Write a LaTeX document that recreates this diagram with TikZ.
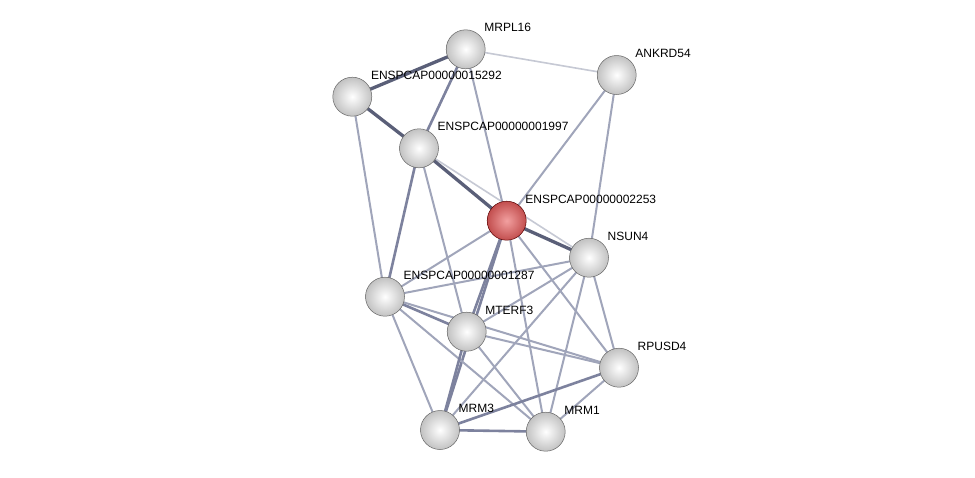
\documentclass[tikz,border=0pt]{standalone}
\usepackage{fontspec}
\setmainfont{Liberation Sans}
\definecolor{ekA}{HTML}{5A5F78}
\definecolor{ekB}{HTML}{7D829E}
\definecolor{ekC}{HTML}{A0A5BA}
\definecolor{ekD}{HTML}{C6C9D4}
\definecolor{ballrim}{HTML}{C2C2C2}
\definecolor{redin}{HTML}{F2A0A0}
\definecolor{redout}{HTML}{C24E4E}
\begin{document}
\begin{tikzpicture}[x=1pt,y=-1pt,
  ball/.style={circle,minimum size=39pt,inner sep=0pt,draw=gray!80!black,line width=0.5pt,
    inner color=white,outer color=ballrim},
  redball/.style={circle,minimum size=39pt,inner sep=0pt,draw=red!35!black,line width=0.5pt,
    inner color=redin,outer color=redout},
  lbl/.style={anchor=base west,font=\fontsize{12}{13}\selectfont,inner sep=0pt},
  ethick/.style={line width=3.3pt,draw=ekA},
  emed/.style={line width=2.6pt,draw=ekB},
  ethin/.style={line width=2pt,draw=ekC},
  elight/.style={line width=1.6pt,draw=ekD}]
\useasboundingbox (0,0) rectangle (975,477);
\fill[white] (0,0) rectangle (975,477);
% coordinates
\coordinate (cMRPL) at (465.7,49.3);
\coordinate (cANK) at (616.7,75);
\coordinate (cA) at (352.3,96.7);
\coordinate (cB) at (419,148.3);
\coordinate (cR) at (506.7,220.7);
\coordinate (cNS) at (589,257.7);
\coordinate (cC) at (385,296.7);
\coordinate (cMT) at (466.7,331.7);
\coordinate (cRP) at (619,367.7);
\coordinate (cM3) at (440,430);
\coordinate (cM1) at (545.7,431.7);
% edges
\draw[elight] (cMRPL) -- (cANK);
\draw[elight] (cB) -- (cNS);
\draw[ethick] (cMRPL) -- (cA);
\draw[emed] (cMRPL) -- (cB);
\draw[ethin] (cMRPL) -- (cR);
\draw[ethick] (cA) -- (cB);
\draw[ethin] (cA) -- (cC);
\draw[ethick] (cB) -- (cR);
\draw[emed] (cB) -- (cC);
\draw[ethin] (cB) -- (cMT);
\draw[ethin] (cANK) -- (cR);
\draw[ethin] (cANK) -- (cNS);
\draw[ethick] (cR) -- (cNS);
\draw[ethin] (cR) -- (cC);
\draw[emed] (cR) -- (cMT);
\draw[emed] (cR) -- (cM3);
\draw[ethin] (cR) -- (cM1);
\draw[ethin] (cR) -- (cRP);
\draw[ethin] (cNS) -- (cC);
\draw[ethin] (cNS) -- (cMT);
\draw[ethin] (cNS) -- (cM3);
\draw[ethin] (cNS) -- (cM1);
\draw[ethin] (cNS) -- (cRP);
\draw[emed] (cC) -- (cMT);
\draw[ethin] (cC) -- (cRP);
\draw[ethin] (cC) -- (cM3);
\draw[ethin] (cC) -- (cM1);
\draw[emed] (cMT) -- (cM3);
\draw[ethin] (cMT) -- (cM1);
\draw[ethin] (cMT) -- (cRP);
\draw[emed] (cM3) -- (cM1);
\draw[emed] (cM3) -- (cRP);
\draw[ethin] (cM1) -- (cRP);
% nodes
\node[ball] (MRPL) at (cMRPL) {};
\node[ball] (ANK) at (cANK) {};
\node[ball] (A) at (cA) {};
\node[ball] (B) at (cB) {};
\node[redball] (R) at (cR) {};
\node[ball] (NS) at (cNS) {};
\node[ball] (C) at (cC) {};
\node[ball] (MT) at (cMT) {};
\node[ball] (RP) at (cRP) {};
\node[ball] (M3) at (cM3) {};
\node[ball] (M1) at (cM1) {};
% labels
\node[lbl] (lMRPL) at ([shift={(18.5,-17.5)}]cMRPL) {MRPL16};
\node[lbl] (lANK) at ([shift={(18.5,-17.5)}]cANK) {ANKRD54};
\node[lbl] (lA) at ([shift={(18.5,-17.5)}]cA) {ENSPCAP00000015292};
\node[lbl] (lB) at ([shift={(18.5,-17.5)}]cB) {ENSPCAP00000001997};
\node[lbl] (lR) at ([shift={(18.5,-17.5)}]cR) {ENSPCAP00000002253};
\node[lbl] (lNS) at ([shift={(18.5,-17.5)}]cNS) {NSUN4};
\node[lbl] (lC) at ([shift={(18.5,-17.5)}]cC) {ENSPCAP00000001287};
\node[lbl] (lMT) at ([shift={(18.5,-17.5)}]cMT) {MTERF3};
\node[lbl] (lRP) at ([shift={(18.5,-17.5)}]cRP) {RPUSD4};
\node[lbl] (lM3) at ([shift={(18.5,-17.5)}]cM3) {MRM3};
\node[lbl] (lM1) at ([shift={(18.5,-17.5)}]cM1) {MRM1};
\end{tikzpicture}
\end{document}
